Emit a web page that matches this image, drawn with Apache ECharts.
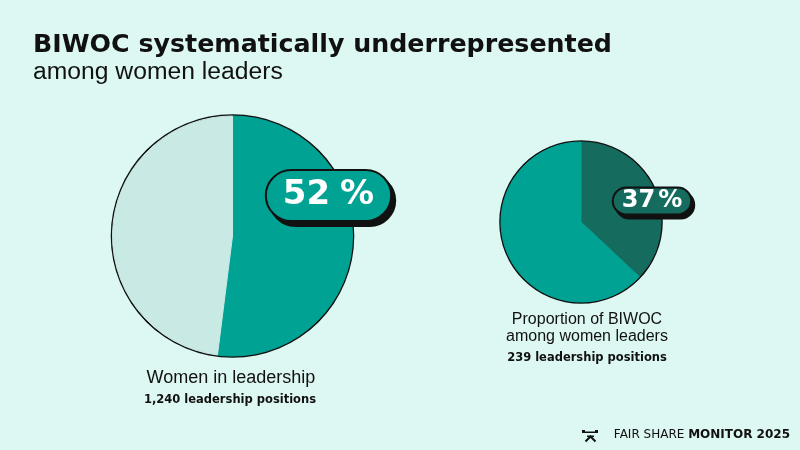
<!DOCTYPE html>
<html>
<head>
<meta charset="utf-8">
<script src="https://cdn.jsdelivr.net/npm/echarts@6/dist/echarts.min.js"></script>
<style>
html,body{margin:0;padding:0;background:#DDF8F2;}
#c{width:800px;height:450px;}
</style>
</head>
<body>
<div id="c"></div>
<script>
// ---- data ----
const titleMain = 'BIWOC systematically underrepresented';
const titleSub = 'among women leaders';
const groupLabels = ['Women in leadership', 'Proportion of BIWOC\namong women leaders'];
const positionCounts = [1240, 239];
const leftNames = ['Women', 'Men'];
const leftValues = [52, 48];
const rightNames = ['BIWOC', 'Other women'];
const rightValues = [37, 63];
const footerLight = 'FAIR SHARE';
const footerBold = 'MONITOR 2025';

// ---- style ----
const BG = '#DDF8F2';
const TEAL = '#00A294';
const LIGHT = '#C9EAE4';
const DARK = '#156B5E';
const INK = '#111111';

const chart = echarts.init(document.getElementById('c'), null, {renderer: 'canvas'});

function fmtCount(n) { return n.toLocaleString('en-US') + ' leadership positions'; }

function pill(size, pad, gap, fill, shadow, radius, lh) {
  return {
    show: true,
    position: 'inside',
    formatter: p => '{n|' + p.value + '}{p|%}',
    backgroundColor: fill,
    borderColor: INK,
    borderWidth: 2,
    borderRadius: radius,
    padding: [0, pad],
    shadowColor: INK,
    shadowBlur: 0,
    shadowOffsetX: shadow,
    shadowOffsetY: shadow + 1,
    rich: {
      n: {fontFamily: 'DejaVu Sans', fontWeight: 'bold', fontSize: size, color: '#fff', lineHeight: lh},
      p: {fontFamily: 'DejaVu Sans', fontWeight: 'bold', fontSize: size, color: '#fff', lineHeight: lh, padding: [0, 0, 0, gap]}
    }
  };
}

const leftCenter = [232.5, 236], leftR = 120;
const rightCenter = [581, 222], rightR = 80;

function ring(center, r) {
  return {type: 'pie', z: 1, silent: true, center: center, radius: [r - 1, r + 1.8],
    label: {show: false}, labelLine: {show: false}, emphasis: {disabled: true},
    itemStyle: {color: INK, borderWidth: 0}, data: [{name: 'outline', value: 1}]};
}

const option = {
  backgroundColor: BG,
  animation: false,
  title: [
    {text: titleMain, left: 33, top: 33, padding: 0,
     textStyle: {fontFamily: 'DejaVu Sans', fontWeight: 'bold', fontSize: 25.3, color: INK}},
    {text: titleSub, left: 33, top: 60, padding: 0,
     textStyle: {fontFamily: 'Liberation Sans', fontWeight: 'normal', fontSize: 24.7, color: INK}},
    {text: groupLabels[0], left: 231, top: 369, textAlign: 'center', padding: 0,
     textStyle: {fontFamily: 'Liberation Sans', fontWeight: 'normal', fontSize: 18, color: INK}},
    {text: fmtCount(positionCounts[0]), left: 230, top: 394, textAlign: 'center', padding: 0,
     textStyle: {fontFamily: 'DejaVu Sans', fontWeight: 'bold', fontSize: 11.5, color: INK}},
    {text: groupLabels[1], left: 587, top: 311, textAlign: 'center', padding: 0,
     textStyle: {fontFamily: 'Liberation Sans', fontWeight: 'normal', fontSize: 16, lineHeight: 17, color: INK}},
    {text: fmtCount(positionCounts[1]), left: 587, top: 352, textAlign: 'center', padding: 0,
     textStyle: {fontFamily: 'DejaVu Sans', fontWeight: 'bold', fontSize: 11.5, color: INK}},
    {text: '{l|' + footerLight + ' }{b|' + footerBold + '}', left: 790, top: 429, textAlign: 'right', padding: 0,
     textStyle: {rich: {
       l: {fontFamily: 'DejaVu Sans', fontWeight: 'normal', fontSize: 12, color: INK},
       b: {fontFamily: 'DejaVu Sans', fontWeight: 'bold', fontSize: 12, color: INK}
     }}}
  ],
  graphic: [
    {type: 'rect', shape: {x: 582, y: 430, width: 3, height: 3}, style: {fill: INK}},
    {type: 'rect', shape: {x: 595, y: 430, width: 3, height: 3}, style: {fill: INK}},
    {type: 'rect', shape: {x: 585, y: 431.5, width: 10, height: 1.5}, style: {fill: INK}},
    {type: 'rect', shape: {x: 587, y: 435.5, width: 7, height: 1.5}, style: {fill: INK}},
    {type: 'polyline', shape: {points: [[585.5, 441.5], [590.5, 436.5], [595.5, 441.5]]}, style: {stroke: INK, lineWidth: 2, fill: null}}
  ],
  series: [
    ring(leftCenter, leftR),
    ring(rightCenter, rightR),
    // left pie
    {type: 'pie', z: 2, silent: true, center: leftCenter, radius: leftR,
     startAngle: 90, clockwise: true, emphasis: {disabled: true},
     labelLine: {show: false},
     labelLayout: {x: 328.5, y: 195.5, align: 'center', verticalAlign: 'middle'},
     label: pill(34, 16, 10, TEAL, 4, 25, 49),
     data: [
       {name: leftNames[0], value: leftValues[0], itemStyle: {color: TEAL, borderColor: TEAL, borderWidth: 1}},
       {name: leftNames[1], value: leftValues[1], itemStyle: {color: LIGHT, borderColor: LIGHT, borderWidth: 1}, label: {show: false}}
     ]},
    // right pie
    {type: 'pie', z: 2, silent: true, center: rightCenter, radius: rightR,
     startAngle: 90, clockwise: true, emphasis: {disabled: true},
     labelLine: {show: false},
     labelLayout: {x: 652, y: 201, align: 'center', verticalAlign: 'middle'},
     label: pill(24, 8, 3, DARK, 3, 13, 25),
     data: [
       {name: rightNames[0], value: rightValues[0], itemStyle: {color: DARK, borderColor: DARK, borderWidth: 1}},
       {name: rightNames[1], value: rightValues[1], itemStyle: {color: TEAL, borderColor: TEAL, borderWidth: 1}, label: {show: false}}
     ]}
  ]
};
chart.setOption(option);
</script>
</body>
</html>
